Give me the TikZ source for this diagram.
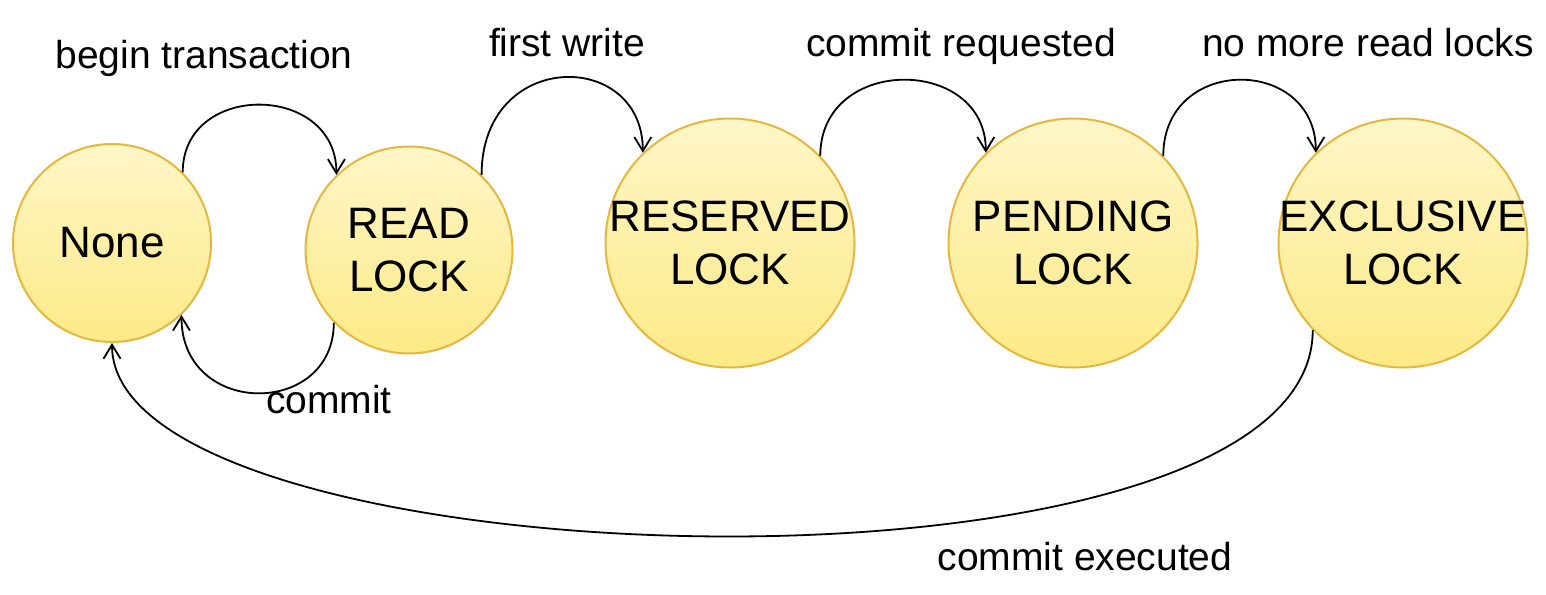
\documentclass[tikz,border=0pt]{standalone}
\usepackage{fontspec}
\setmainfont{Liberation Sans}
\usetikzlibrary{arrows.meta}

\definecolor{locktop}{HTML}{FEF6C8}
\definecolor{lockbot}{HTML}{FDEA86}
\definecolor{lockedge}{HTML}{E6B73E}

\tikzset{
  lock/.style={circle, draw=lockedge, line width=1pt, top color=locktop,
    bottom color=lockbot, align=center, inner sep=-12pt,
    font=\fontsize{22}{26.5}\selectfont},
  trans/.style={line width=0.9pt, -{Straight Barb[length=7pt,width=8.5pt]}},
  translabel/.style={anchor=base, inner sep=0pt, font=\fontsize{19.5}{23}\selectfont}
}

\begin{document}
\begin{tikzpicture}[x=0.5pt,y=0.5pt]
\useasboundingbox (0,0) rectangle (1546,-594);

% lock states
\node[lock, minimum size=99pt] (none) at (112,-243) {None};
\node[lock, minimum size=103.5pt] (read) at (409,-250) {READ\\LOCK};
\node[lock, minimum size=124.5pt] (reserved) at (730,-243) {RESERVED\\LOCK};
\node[lock, minimum size=124.5pt] (pending) at (1073,-243) {PENDING\\LOCK};
\node[lock, minimum size=124.5pt] (exclusive) at (1403,-243) {EXCLUSIVE\\LOCK};

% transitions
\draw[trans] (none.45) .. controls +(0,91) and +(0,92) .. (read.134);
\draw[trans] (read.224) .. controls +(0,-95) and +(0,-103) .. (none.314);
\draw[trans] (read.46) .. controls +(0,126) and +(0,104) .. (reserved.134);
\draw[trans] (reserved.44) .. controls +(0,101) and +(0,97) .. (pending.134);
\draw[trans] (pending.44) .. controls +(0,101) and +(0,97) .. (exclusive.134);
\draw[trans] (exclusive.224) .. controls +(0,-290) and +(0,-242) .. (none.south);

\node[translabel] (lbegin) at (204,-68) {begin transaction};
\node[translabel] (lcommit) at (329,-413) {commit};
\node[translabel] (lwrite) at (567,-56) {first write};
\node[translabel] (lrequest) at (961,-56) {commit requested};
\node[translabel] (lnoread) at (1368,-56) {no more read locks};
\node[translabel] (lexec) at (1085,-570) {commit executed};
\end{tikzpicture}
\end{document}
